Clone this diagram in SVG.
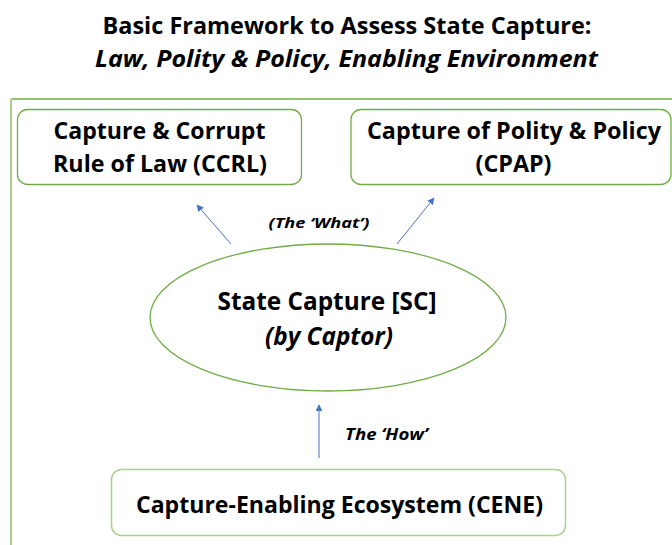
<svg xmlns="http://www.w3.org/2000/svg" width="672" height="545" viewBox="0 0 672 545">
  <style>
    text { font-family: "Open Sans", "Noto Sans", "Liberation Sans", sans-serif; font-weight: bold; fill: #000; text-anchor: middle; }
    .it { font-style: italic; }
    .box { fill: #fff; stroke: #70ad47; stroke-width: 1.3; }
    .soft { stroke: #a9d18e; stroke-width: 1.5; }
    .link { stroke: #4472c4; stroke-width: 1; fill: none; marker-end: url(#head); }
  </style>
  <defs>
    <marker id="head" viewBox="0 0 10 10" refX="9" refY="5" markerWidth="7" markerHeight="7" markerUnits="userSpaceOnUse" orient="auto">
      <path d="M0,0 L10,5 L0,10 z" fill="#4472c4"/>
    </marker>
  </defs>
  <rect width="672" height="545" fill="#fff"/>

  <!-- title -->
  <g id="title">
    <text x="347" y="34" font-size="23" textLength="489" lengthAdjust="spacingAndGlyphs">Basic Framework to Assess State Capture:</text>
    <text x="346.5" y="66.5" font-size="23" class="it" textLength="503" lengthAdjust="spacingAndGlyphs">Law, Polity &amp; Policy, Enabling Environment</text>
  </g>

  <!-- outer frame -->
  <g id="frame">
    <line x1="11" y1="99" x2="672" y2="99" stroke="#70ad47" stroke-width="1.5"/>
    <line x1="11" y1="99" x2="11" y2="545" stroke="#a9d18e" stroke-width="2"/>
  </g>

  <!-- connectors -->
  <g id="connectors">
    <line class="link" x1="231" y1="244" x2="197" y2="205"/>
    <line class="link" x1="397" y1="244" x2="434" y2="198"/>
    <line class="link" x1="319" y1="458" x2="319" y2="405"/>
    <text x="319" y="228" font-size="15" class="it" textLength="101" lengthAdjust="spacingAndGlyphs">(The ‘What’)</text>
    <text x="386.5" y="440" font-size="16" class="it" textLength="83" lengthAdjust="spacingAndGlyphs">The ‘How’</text>
  </g>

  <g id="ccrl">
    <rect class="box" x="17.5" y="109.5" width="284" height="75" rx="10"/>
    <text x="159.5" y="138.5" font-size="23" textLength="212" lengthAdjust="spacingAndGlyphs">Capture &amp; Corrupt</text>
    <text x="160" y="171.5" font-size="23" textLength="214" lengthAdjust="spacingAndGlyphs">Rule of Law (CCRL)</text>
  </g>

  <g id="cpap">
    <rect class="box" x="351" y="109.5" width="320" height="75" rx="10"/>
    <text x="514" y="138.5" font-size="23" textLength="294" lengthAdjust="spacingAndGlyphs">Capture of Polity &amp; Policy</text>
    <text x="513.5" y="171.5" font-size="23" textLength="76" lengthAdjust="spacingAndGlyphs">(CPAP)</text>
  </g>

  <g id="sc">
    <ellipse class="box" cx="328" cy="317.5" rx="178" ry="73.5" stroke-width="1"/>
    <text x="327" y="310" font-size="25" textLength="219" lengthAdjust="spacingAndGlyphs">State Capture [SC]</text>
    <text x="329" y="345" font-size="25" class="it" textLength="128" lengthAdjust="spacingAndGlyphs">(by Captor)</text>
  </g>

  <g id="cene">
    <rect class="box soft" x="111.5" y="469.5" width="454" height="66" rx="10"/>
    <text x="339.5" y="513" font-size="23" textLength="407" lengthAdjust="spacingAndGlyphs">Capture-Enabling Ecosystem (CENE)</text>
  </g>
</svg>
